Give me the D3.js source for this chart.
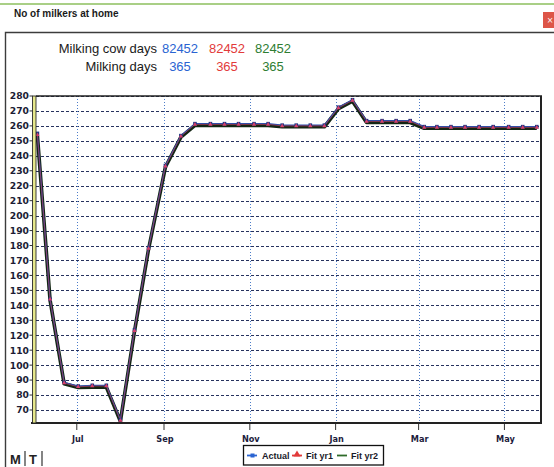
<!DOCTYPE html>
<html>
<head>
<meta charset="utf-8">
<script src="https://cdnjs.cloudflare.com/ajax/libs/d3/7.8.5/d3.min.js"></script>
<style>
  html, body { margin: 0; padding: 0; background: #ffffff; }
  svg { display: block; }
</style>
</head>
<body>
<svg id="chart" width="554" height="467"></svg>
<script>
// ---------------- DATA ----------------
const dates = [
  "2014-06-03","2014-06-12","2014-06-22","2014-07-02","2014-07-12","2014-07-22",
  "2014-08-01","2014-08-11","2014-08-21","2014-09-02","2014-09-13","2014-09-23",
  "2014-10-04","2014-10-14","2014-10-24","2014-11-04","2014-11-14","2014-11-24",
  "2014-12-04","2014-12-14","2014-12-24","2015-01-03","2015-01-13","2015-01-23",
  "2015-02-03","2015-02-13","2015-02-23","2015-03-05","2015-03-14","2015-03-24",
  "2015-04-03","2015-04-13","2015-04-23","2015-05-04","2015-05-14","2015-05-24"
];
const actual = [255, 144, 88.5, 86, 86.5, 86.5, 63.5, 123.5, 178.5, 233.5, 253.5, 261.5,
  261.5, 261.5, 261.5, 261.5, 261.5, 260.5, 260.5, 260.5, 260.5, 272.5, 277.5, 263.5,
  263.5, 263.5, 263.5, 259.5, 259.5, 259.5, 259.5, 259.5, 259.5, 259.5, 259.5, 259.5];
const fitYr1 = [254, 144, 88, 85.5, 86, 86, 63, 123, 178, 233, 253, 261,
  261, 261, 261, 261, 261, 260, 260, 260, 260, 272, 277, 263,
  263, 263, 263, 259, 259, 259, 259, 259, 259, 259, 259, 259];
const fitYr2 = [253.5, 143.5, 87.5, 85, 85.3, 85.3, 62.5, 122.5, 177.5, 232.5, 252.5, 260.3,
  260.3, 260.3, 260.3, 260.3, 260.3, 259.4, 259.4, 259.4, 259.4, 271.5, 276.5, 262.3,
  262.3, 262.3, 262.3, 258.4, 258.4, 258.4, 258.4, 258.4, 258.4, 258.4, 258.4, 258.4];

const seriesNames = ["Actual", "Fit yr1", "Fit yr2"];
const seriesColors = ["#2a64d2", "#e23a3a", "#2e7d32"];
const milkingCowDays = [82452, 82452, 82452];
const milkingDays = [365, 365, 365];

const yTickValues = [70, 80, 90, 100, 110, 120, 130, 140, 150, 160, 170, 180, 190, 200,
  210, 220, 230, 240, 250, 260, 270, 280];
const xTickDates = ["2014-07-01","2014-09-01","2014-11-01","2015-01-01","2015-03-01","2015-05-01"];
const xTickLabels = ["Jul", "Sep", "Nov", "Jan", "Mar", "May"];

const title = "No of milkers at home";

// ---------------- LAYOUT ----------------
const svg = d3.select("#chart");
const parse = d3.timeParse("%Y-%m-%d");
const plot = { left: 36, right: 541, top: 96, bottom: 423 };

const x = d3.scaleTime()
  .domain([parse("2014-06-02"), parse("2015-05-27")])
  .range([plot.left, plot.right]);
const y = d3.scaleLinear()
  .domain([61.3, 280])
  .range([plot.bottom, plot.top]);

// top decorative green rule
svg.append("line").attr("x1", 0).attr("x2", 554).attr("y1", 4).attr("y2", 4)
  .attr("stroke", "#8dbf5e").attr("stroke-width", 1.6);

// title
svg.append("text").attr("x", 14).attr("y", 17)
  .attr("font-family", "Liberation Sans, Arial, sans-serif").attr("font-size", 10)
  .attr("font-weight", "bold").attr("fill", "#1a1a1a").text(title);

// close button
svg.append("rect").attr("x", 543).attr("y", 12).attr("width", 14).attr("height", 16)
  .attr("fill", "#dd5548");
svg.append("text").attr("x", 550).attr("y", 23).attr("text-anchor", "middle")
  .attr("font-family", "DejaVu Sans, sans-serif").attr("font-size", 8)
  .attr("fill", "#fff").text("×");

// panel frame
svg.append("path").attr("d", "M5.5,467 V32.5 H554")
  .attr("fill", "none").attr("stroke", "#3c3c3c").attr("stroke-width", 1.4);

// header stats
const hdrFont = "Liberation Sans, Arial, sans-serif";
svg.append("text").attr("x", 157).attr("y", 53).attr("text-anchor", "end")
  .attr("font-family", hdrFont).attr("font-size", 13).attr("fill", "#1a1a1a")
  .text("Milking cow days");
svg.append("text").attr("x", 157).attr("y", 71).attr("text-anchor", "end")
  .attr("font-family", hdrFont).attr("font-size", 13).attr("fill", "#1a1a1a")
  .text("Milking days");
const colCenters = [180, 227, 273];
milkingCowDays.forEach((v, i) => {
  svg.append("text").attr("x", colCenters[i]).attr("y", 53).attr("text-anchor", "middle")
    .attr("font-family", hdrFont).attr("font-size", 13).attr("fill", seriesColors[i]).text(v);
});
milkingDays.forEach((v, i) => {
  svg.append("text").attr("x", colCenters[i]).attr("y", 71).attr("text-anchor", "middle")
    .attr("font-family", hdrFont).attr("font-size", 13).attr("fill", seriesColors[i]).text(v);
});

// gridlines
const g = svg.append("g");
g.selectAll("line.hgrid").data(yTickValues).join("line")
  .attr("class", "hgrid")
  .attr("x1", plot.left).attr("x2", plot.right)
  .attr("y1", d => Math.round(y(d)) + 0.5).attr("y2", d => Math.round(y(d)) + 0.5)
  .attr("stroke", "#27325e").attr("stroke-width", 1).attr("stroke-dasharray", "3,2");
g.selectAll("line.vgrid").data(xTickDates).join("line")
  .attr("class", "vgrid")
  .attr("x1", d => Math.round(x(parse(d))) + 0.5).attr("x2", d => Math.round(x(parse(d))) + 0.5)
  .attr("y1", plot.top).attr("y2", plot.bottom)
  .attr("stroke", "#4d7cc8").attr("stroke-width", 1).attr("stroke-dasharray", "1,2");

// series
const pts = (arr) => arr.map((v, i) => [parse(dates[i]), v]);
const line = d3.line().x(d => x(d[0])).y(d => y(d[1]));
g.append("path").datum(pts(fitYr2)).attr("d", line)
  .attr("fill", "none").attr("stroke", "#142614").attr("stroke-width", 3.6)
  .attr("stroke-linejoin", "round");
g.append("path").datum(pts(actual)).attr("d", line)
  .attr("fill", "none").attr("stroke", "#2a4fae").attr("stroke-width", 1.2)
  .attr("stroke-linejoin", "round");
g.append("path").datum(pts(fitYr1)).attr("d", line)
  .attr("fill", "none").attr("stroke", "#b83a58").attr("stroke-width", 0.8)
  .attr("stroke-opacity", 0.85).attr("stroke-linejoin", "round");
g.selectAll("rect.am").data(pts(actual)).join("rect")
  .attr("class", "am")
  .attr("x", d => x(d[0]) - 1.8).attr("y", d => y(d[1]) - 1.8)
  .attr("width", 3.6).attr("height", 3.6).attr("fill", "#1f3580");
g.selectAll("path.fm").data(pts(fitYr1)).join("path")
  .attr("class", "fm")
  .attr("d", d3.symbol().type(d3.symbolTriangle).size(8))
  .attr("transform", d => `translate(${x(d[0])},${y(d[1])})`)
  .attr("fill", "#d8406a");

// plot frame
svg.append("line").attr("x1", plot.left).attr("x2", plot.right + 1)
  .attr("y1", plot.top).attr("y2", plot.top).attr("stroke", "#222").attr("stroke-width", 1.5);
svg.append("line").attr("x1", plot.right).attr("x2", plot.right)
  .attr("y1", plot.top).attr("y2", plot.bottom + 1).attr("stroke", "#222").attr("stroke-width", 2);
svg.append("line").attr("x1", 31).attr("x2", plot.right + 1)
  .attr("y1", plot.bottom).attr("y2", plot.bottom).attr("stroke", "#222").attr("stroke-width", 2.2);
// yellow left bar
svg.append("rect").attr("x", 32.5).attr("y", plot.top).attr("width", 3.5)
  .attr("height", plot.bottom - plot.top)
  .attr("fill", "#e6e88c").attr("stroke", "#2a2a2a").attr("stroke-width", 0.9);

// y axis labels + ticks
const axisFont = "DejaVu Sans, Verdana, sans-serif";
svg.selectAll("text.ylab").data(yTickValues).join("text")
  .attr("class", "ylab")
  .attr("x", 29).attr("y", d => y(d) + 3.4).attr("text-anchor", "end")
  .attr("font-family", axisFont).attr("font-size", 9.2).attr("font-weight", "bold")
  .attr("fill", "#1c1c34").text(d => d);
svg.selectAll("line.ytick").data(yTickValues).join("line")
  .attr("class", "ytick")
  .attr("x1", 29.5).attr("x2", 32.5).attr("y1", d => y(d)).attr("y2", d => y(d))
  .attr("stroke", "#333").attr("stroke-width", 1);

// x axis labels + ticks
svg.selectAll("line.xtick").data(xTickDates).join("line")
  .attr("class", "xtick")
  .attr("x1", d => x(parse(d))).attr("x2", d => x(parse(d)))
  .attr("y1", plot.bottom + 1).attr("y2", plot.bottom + 7)
  .attr("stroke", "#333").attr("stroke-width", 1);
svg.selectAll("text.xlab").data(xTickLabels).join("text")
  .attr("class", "xlab")
  .attr("x", (d, i) => x(parse(xTickDates[i])) + 1).attr("y", 442).attr("text-anchor", "middle")
  .attr("font-family", axisFont).attr("font-size", 8.2).attr("font-weight", "bold")
  .attr("fill", "#1c1c3c").text(d => d);

// legend
const lg = svg.append("g");
lg.append("rect").attr("x", 243.5).attr("y", 445.5).attr("width", 140).attr("height", 19.5)
  .attr("fill", "#fff").attr("stroke", "#111").attr("stroke-width", 1.3);
const legFont = "Liberation Sans, Arial, sans-serif";
const legItems = [
  { sx: 247, tx: 262, color: "#2a64d2", mark: "rect" },
  { sx: 292, tx: 306, color: "#e23a3a", mark: "tri" },
  { sx: 337, tx: 351, color: "#2e6b2a", mark: "none" }
];
legItems.forEach((it, i) => {
  lg.append("line").attr("x1", it.sx).attr("x2", it.sx + 10).attr("y1", 455.5).attr("y2", 455.5)
    .attr("stroke", it.color).attr("stroke-width", 1.8);
  if (it.mark === "rect") {
    lg.append("rect").attr("x", it.sx + 3.5).attr("y", 453.5).attr("width", 4).attr("height", 4)
      .attr("fill", it.color);
  } else if (it.mark === "tri") {
    lg.append("path").attr("d", d3.symbol().type(d3.symbolTriangle).size(22))
      .attr("transform", `translate(${it.sx + 5},454.5)`).attr("fill", it.color);
  }
  lg.append("text").attr("x", it.tx).attr("y", 459)
    .attr("font-family", legFont).attr("font-size", 9).attr("font-weight", "bold")
    .attr("fill", "#1a1a2a").text(seriesNames[i]);
});

// bottom-left tabs
svg.append("text").attr("x", 10).attr("y", 464)
  .attr("font-family", legFont).attr("font-size", 13).attr("font-weight", "bold")
  .attr("fill", "#222").text("M");
svg.append("text").attr("x", 29).attr("y", 464)
  .attr("font-family", legFont).attr("font-size", 13).attr("font-weight", "bold")
  .attr("fill", "#222").text("T");
[25, 42].forEach(xx => {
  svg.append("line").attr("x1", xx).attr("x2", xx).attr("y1", 451).attr("y2", 466)
    .attr("stroke", "#333").attr("stroke-width", 1.2);
});
</script>
</body>
</html>
